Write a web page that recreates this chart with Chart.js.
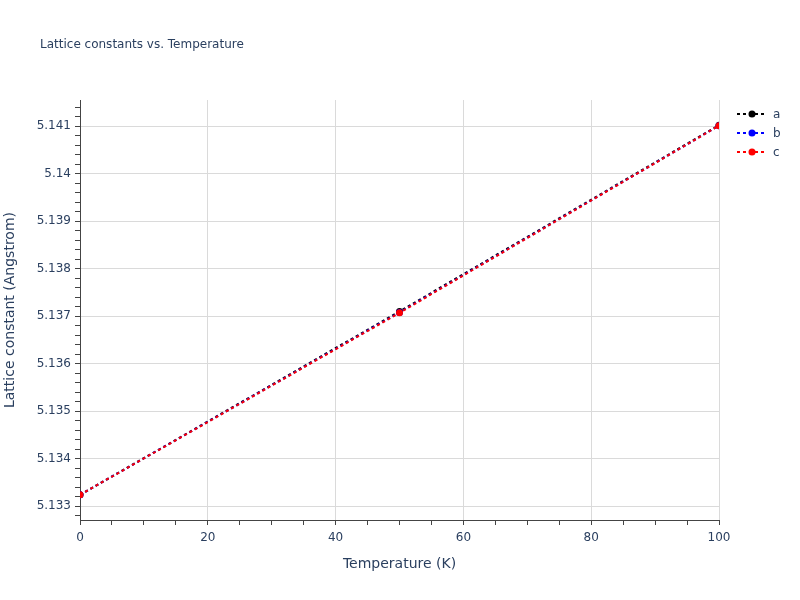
<!DOCTYPE html>
<html lang="en">
<head>
    <meta charset="UTF-8">
    <title>Lattice constants vs. Temperature</title>
    <script src="https://cdn.jsdelivr.net/npm/chart.js"></script>
    <style>
        html, body { margin: 0; padding: 0; background: #fff; }
        #wrap { width: 800px; height: 600px; }
    </style>
</head>
<body>
    <div id="wrap"><canvas id="latChart" width="800" height="600"></canvas></div>

    <script>
        // data
        const temperatures = [0, 50, 100];
        const latticeA = [5.13324, 5.13710, 5.14102];
        const latticeB = [5.13324, 5.13708, 5.14101];
        const latticeC = [5.13324, 5.13707, 5.14101];
        const seriesNames = ['a', 'b', 'c'];
        const seriesColors = ['#000000', '#0000ff', '#ff0000'];
        const yMajorTicks = [5.133, 5.134, 5.135, 5.136, 5.137, 5.138, 5.139, 5.14, 5.141];
        const xMajorTicks = [0, 20, 40, 60, 80, 100];

        const fontFam = '"DejaVu Sans", Verdana, sans-serif';
        const textCol = '#2a3f5f';
        const gridCol = '#dadada';

        function toPoints(ys) {
            return temperatures.map((t, i) => ({ x: t, y: ys[i] }));
        }

        function isYMajor(v) {
            return yMajorTicks.some(m => Math.abs(m - v) < 1e-7);
        }
        function isXMajor(v) {
            return xMajorTicks.indexOf(Math.round(v)) !== -1 && Math.abs(v - Math.round(v)) < 1e-9;
        }

        const seriesValues = [latticeA, latticeB, latticeC];
        const datasets = seriesValues.map((vals, i) => ({
            label: seriesNames[i],
            data: toPoints(vals),
            order: seriesValues.length - i,   // c ends up on top, like the reference
            borderColor: seriesColors[i],
            backgroundColor: seriesColors[i],
            borderWidth: 2,
            borderDash: [3, 3],
            pointRadius: 3.5,
            pointHoverRadius: 3.5,
            pointBorderWidth: 0,
            tension: 0
        }));

        // title + legend drawn plotly style
        const decor = {
            id: 'decor',
            afterDraw(chart) {
                const ctx = chart.ctx;
                ctx.save();
                ctx.fillStyle = textCol;
                ctx.font = '12px ' + fontFam;
                ctx.textBaseline = 'middle';
                ctx.textAlign = 'left';
                ctx.fillText('Lattice constants vs. Temperature', 40, 45);

                chart.data.datasets.forEach((ds, i) => {
                    const y = 114 + i * 19;
                    ctx.strokeStyle = ds.borderColor;
                    ctx.lineWidth = 2;
                    ctx.setLineDash([3, 3]);
                    ctx.beginPath();
                    ctx.moveTo(737, y);
                    ctx.lineTo(767, y);
                    ctx.stroke();
                    ctx.setLineDash([]);
                    ctx.fillStyle = ds.backgroundColor;
                    ctx.beginPath();
                    ctx.arc(752, y, 3.5, 0, Math.PI * 2);
                    ctx.fill();
                    ctx.fillStyle = textCol;
                    ctx.font = '12px ' + fontFam;
                    ctx.fillText(ds.label, 773, y + 1);
                });
                ctx.restore();
            }
        };

        const ctx = document.getElementById('latChart').getContext('2d');
        const latChart = new Chart(ctx, {
            type: 'line',
            data: { datasets: datasets },
            plugins: [decor],
            options: {
                responsive: false,
                animation: false,
                layout: { padding: { top: 100, right: 81, left: 0, bottom: 27 } },
                plugins: {
                    legend: { display: false },
                    title: { display: false },
                    tooltip: { enabled: false }
                },
                scales: {
                    x: {
                        type: 'linear',
                        min: 0,
                        max: 100,
                        afterFit(scale) { scale.height = 53; },
                        border: { display: true, color: '#444', width: 1 },
                        grid: {
                            color: c => isXMajor(c.tick.value) ? gridCol : 'rgba(0,0,0,0)',
                            tickColor: '#444',
                            tickLength: 5,
                            drawOnChartArea: true
                        },
                        ticks: {
                            stepSize: 5,
                            autoSkip: false,
                            maxRotation: 0,
                            padding: 6,
                            color: textCol,
                            font: { family: fontFam, size: 12 },
                            callback: v => isXMajor(v) ? String(v) : ''
                        },
                        title: {
                            display: true,
                            text: 'Temperature (K)',
                            color: textCol,
                            font: { family: fontFam, size: 14 },
                            padding: { top: 5, bottom: 0 }
                        }
                    },
                    y: {
                        type: 'linear',
                        min: 5.13271,
                        max: 5.14155,
                        afterFit(scale) { scale.width = 80; },
                        border: { display: true, color: '#444', width: 1 },
                        grid: {
                            color: c => isYMajor(c.tick.value) ? gridCol : 'rgba(0,0,0,0)',
                            tickColor: '#444',
                            tickLength: 5
                        },
                        ticks: {
                            stepSize: 0.0002,
                            includeBounds: false,
                            autoSkip: false,
                            padding: 4,
                            color: textCol,
                            font: { family: fontFam, size: 12 },
                            callback: v => isYMajor(v) ? String(Math.round(v * 1000) / 1000) : ''
                        },
                        title: {
                            display: true,
                            text: 'Lattice constant (Angstrom)',
                            color: textCol,
                            font: { family: fontFam, size: 14 },
                            padding: { top: 2, bottom: 0 }
                        }
                    }
                }
            }
        });
    </script>
</body>
</html>
